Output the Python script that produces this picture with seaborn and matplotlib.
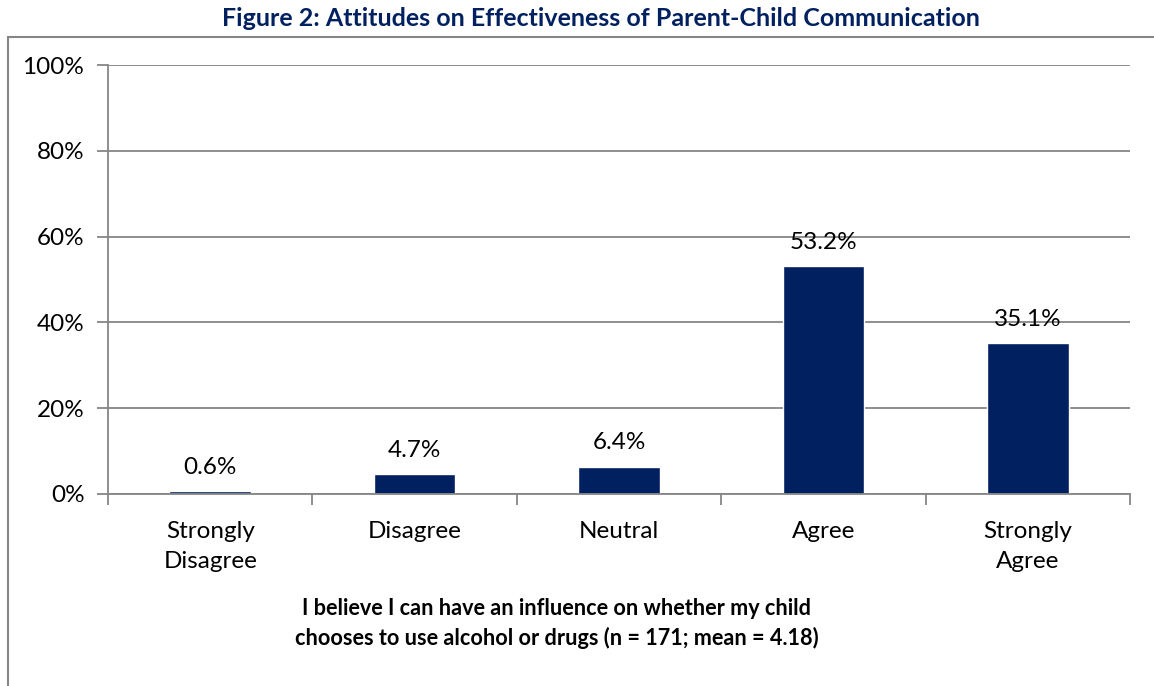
import matplotlib
matplotlib.use("Agg")
import matplotlib.pyplot as plt
import seaborn as sns
import pandas as pd
from matplotlib.patches import Rectangle
from matplotlib.ticker import FixedLocator, FuncFormatter

categories = ["Strongly\nDisagree", "Disagree", "Neutral", "Agree", "Strongly\nAgree"]
values = [0.6, 4.7, 6.4, 53.2, 35.1]
yticks = [0, 20, 40, 60, 80, 100]
title = "Figure 2: Attitudes on Effectiveness of Parent-Child Communication"
xlabel = "I believe I can have an influence on whether my child\nchooses to use alcohol or drugs (n = 171; mean = 4.18)"

sns.set_theme(style="white")
plt.rcParams['font.family'] = ['Lato', 'DejaVu Sans']

FS = 17.5
W, H = 1154, 686
fig = plt.figure(figsize=(W / 100, H / 100), dpi=100)
ax = fig.add_axes([108 / W, 1 - 494 / H, (1130 - 108) / W, (494 - 65) / H])

df = pd.DataFrame({"cat": categories, "val": values})
sns.barplot(data=df, x="cat", y="val", color="#002060", width=0.4, ax=ax, saturation=1)

ax.set_ylim(0, 100)
ax.set_xlim(-0.5, 4.5)
ax.yaxis.set_major_locator(FixedLocator(yticks))
ax.yaxis.set_major_formatter(FuncFormatter(lambda v, p: f"{v:.0f}%"))
ax.grid(axis="y", color="#868686", linewidth=1.3)
ax.set_axisbelow(True)
for s in ["top", "right"]:
    ax.spines[s].set_visible(False)
for s in ["left", "bottom"]:
    ax.spines[s].set_color("#868686")
    ax.spines[s].set_linewidth(1.3)

ax.tick_params(axis="y", which="major", length=8, width=1.3, color="#868686",
               labelsize=FS, pad=9, left=True, labelcolor="black")
ax.tick_params(axis="x", which="major", length=0, labelsize=FS, pad=19.5, labelcolor="black")
ax.tick_params(axis="x", which="minor", length=8, width=1.3, color="#868686", bottom=True)
ax.xaxis.set_minor_locator(FixedLocator([-0.5, 0.5, 1.5, 2.5, 3.5, 4.5]))
for lab in ax.get_xticklabels():
    lab.set_linespacing(1.5)

for i, v in enumerate(values):
    ax.text(i, v + 4.0, f"{v:.1f}%", ha="center", va="baseline", fontsize=FS, color="black")

ax.set_xlabel(xlabel, fontsize=15.6, fontweight="bold", linespacing=1.45, color="black")
ax.xaxis.set_label_coords((557 - 108) / 1022, -(598 - 494) / 429)
ax.set_ylabel("")

fig.text(601 / W, 1 - 18 / H, title, ha="center", va="center", fontsize=18,
         fontweight="bold", color="#002060")

fig.patches.append(Rectangle((7.5 / W, -0.1), 1.2, 1 - 37 / H + 0.1, transform=fig.transFigure,
                             fill=False, edgecolor="#868686", linewidth=1.5, zorder=0))

fig.savefig("out.png", dpi=100)
